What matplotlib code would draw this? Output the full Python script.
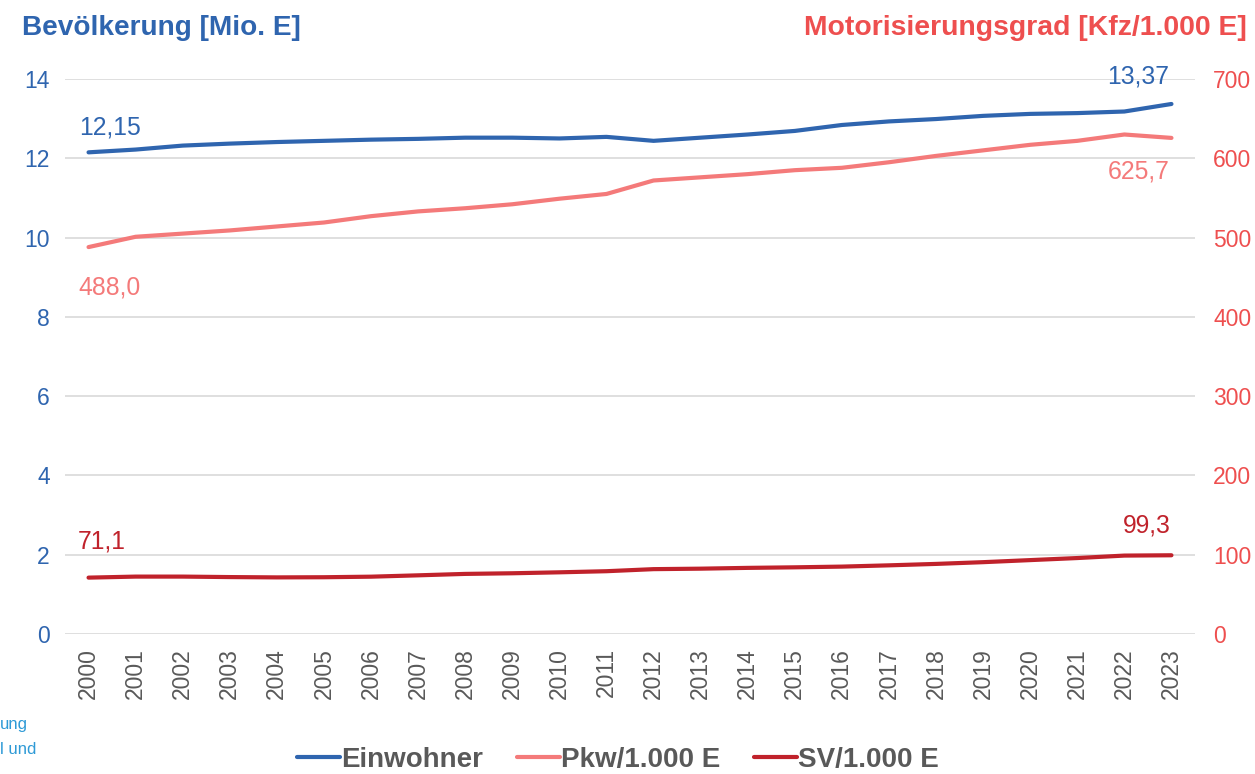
import numpy as np
import matplotlib
matplotlib.use('Agg')
import matplotlib.pyplot as plt

plt.rcParams['font.family'] = ['Liberation Sans', 'DejaVu Sans']

years = [str(y) for y in range(2000, 2024)]
einwohner = [12.15, 12.22, 12.32, 12.37, 12.41, 12.44, 12.47, 12.49, 12.52, 12.52, 12.50, 12.54,
             12.44, 12.52, 12.60, 12.69, 12.84, 12.93, 12.99, 13.07, 13.12, 13.14, 13.18, 13.37]
pkw = [488.0, 501.0, 505.0, 509.0, 514.0, 519.0, 527.0, 533.0, 537.0, 542.0, 549.0, 555.0,
       572.0, 576.0, 580.0, 585.0, 588.0, 595.0, 603.0, 610.0, 617.0, 622.0, 630.0, 625.7]
sv = [71.1, 72.4, 72.4, 71.8, 71.4, 71.6, 72.3, 74.0, 75.8, 76.6, 77.8, 79.2,
      81.8, 82.4, 83.4, 84.1, 85.0, 86.6, 88.4, 90.6, 93.2, 95.8, 98.9, 99.3]

blue = '#2F65AF'
pink = '#F47A7A'
red = '#C0222B'
axis_red = '#EE4F4F'
grey = '#595959'

fig = plt.figure(figsize=(12.55, 7.74), dpi=100)
ax = fig.add_axes([65 / 1255, 1 - 634 / 774, 1130 / 1255, 555 / 774])
ax2 = ax.twinx()

x = np.arange(len(years))
l1, = ax.plot(x, einwohner, color=blue, lw=3, solid_capstyle='round', label='Einwohner')
l2, = ax2.plot(x, pkw, color=pink, lw=3, solid_capstyle='round', label='Pkw/1.000 E')
l3, = ax2.plot(x, sv, color=red, lw=3, solid_capstyle='round', label='SV/1.000 E')

ax.set_xlim(-0.5, len(years) - 0.5)
ax.set_ylim(0, 14)
ax2.set_ylim(0, 700)
ax.set_yticks(np.arange(0, 15, 2))
ax2.set_yticks(np.arange(0, 701, 100))
ax.set_xticks(x)
ax.set_xticklabels(years, rotation=90)

ax.grid(axis='y', color='#D9D9D9', lw=1.2)
ax.set_axisbelow(True)
for a in (ax, ax2):
    for s in a.spines.values():
        s.set_visible(False)
ax.tick_params(axis='x', length=0, pad=10, labelsize=16.5, labelcolor=grey)
ax.tick_params(axis='y', length=0, pad=11, labelsize=16.5, labelcolor=blue)
ax2.tick_params(axis='y', length=0, pad=13, labelsize=16.5, labelcolor=axis_red)


def de(v, n):
    return f'{v:.{n}f}'.replace('.', ',')


def label(a, i, v, n, dx, dy, col):
    a.annotate(de(v, n), (x[i], v), xytext=(dx, dy), textcoords='offset pixels',
               ha='center', va='center', fontsize=17.8, color=col)


label(ax, 0, einwohner[0], 2, 21, 25, blue)
label(ax, -1, einwohner[-1], 2, -33, 27, blue)
label(ax2, 0, pkw[0], 1, 21, -40, pink)
label(ax2, -1, pkw[-1], 1, -33, -34, pink)
label(ax2, 0, sv[0], 1, 13, 36, red)
label(ax2, -1, sv[-1], 1, -25, 30, red)

fig.text(22 / 1255, 1 - 28 / 774, 'Bevölkerung [Mio. E]', color=blue, fontsize=20.2,
         fontweight='bold', ha='left', va='center')
fig.text(1247 / 1255, 1 - 28 / 774, 'Motorisierungsgrad [Kfz/1.000 E]', color=axis_red,
         fontsize=20.4, fontweight='bold', ha='right', va='center')

# cut-off text from the neighbouring page
fig.text(0, 1 - 724 / 774, 'ung', color='#2E9AD6', fontsize=12, ha='left', va='center')
fig.text(0, 1 - 749 / 774, 'l und', color='#2E9AD6', fontsize=12, ha='left', va='center')

leg = fig.legend(handles=[l1, l2, l3], loc='center', bbox_to_anchor=(618 / 1255, 1 - 760 / 774),
                 ncol=3, frameon=False, handlelength=1.55, handletextpad=0.05, columnspacing=1.2,
                 prop={'size': 20, 'weight': 'bold'})
for t in leg.get_texts():
    t.set_color(grey)

fig.savefig('out.png', dpi=100)
